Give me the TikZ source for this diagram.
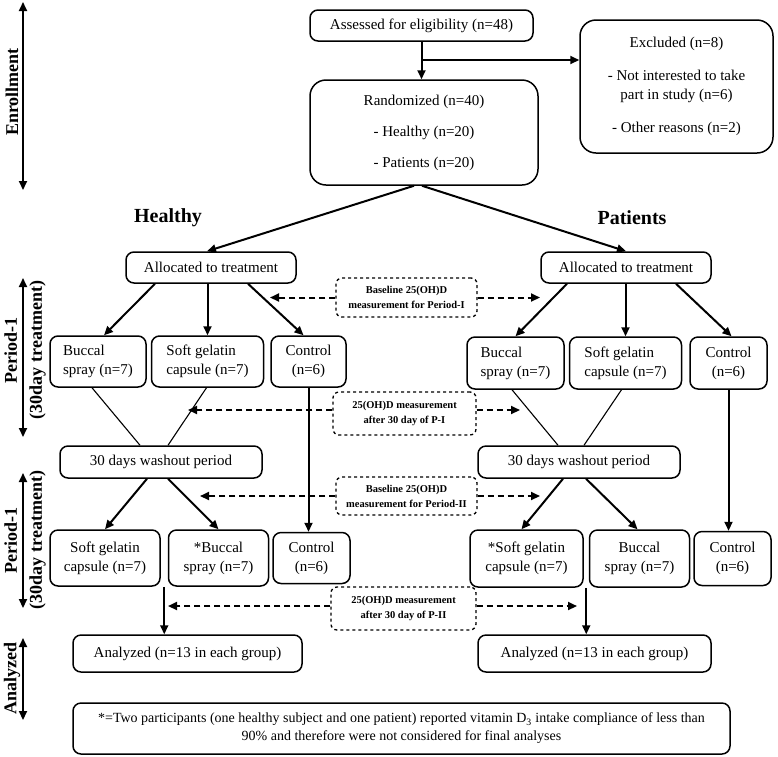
\documentclass[tikz,border=0pt]{standalone}
\usepackage{fontspec}
\setmainfont{Liberation Serif}
\usetikzlibrary{positioning,arrows.meta,calc}

\tikzset{
  box/.style={draw, line width=1.5pt, rounded corners=8pt, align=center, inner sep=0pt, font=\fontsize{15}{19}\selectfont},
  lbox/.style={box, align=left},
  dbox/.style={draw, dashed, line width=1.3pt, rounded corners=6pt, align=center, inner sep=0pt, font=\fontsize{10.5}{15}\selectfont\bfseries},
  head/.style={font=\fontsize{20}{24}\selectfont\bfseries},
  side/.style={rotate=90, align=center, font=\fontsize{18}{25}\selectfont\bfseries},
  arr/.style={-{Triangle[length=9pt,width=8pt]}, line width=2pt},
  darr/.style={arr, dash pattern=on 6pt off 4pt},
  sidearr/.style={{Triangle[length=9pt,width=8pt]}-{Triangle[length=9pt,width=8pt]}, line width=2pt},
  thinline/.style={line width=1.1pt},
}

\begin{document}
\begin{tikzpicture}[x=1pt,y=-1pt]
  \useasboundingbox (0,0) rectangle (778,756);

  % enrollment
  \node[box, minimum width=223, minimum height=31] (assess) at (421.5,25.5) {Assessed for eligibility (n=48)};
  \node[box, rounded corners=16pt, minimum width=193, minimum height=133] (excl) at (676.5,86.5)
    {Excluded (n=8)\\[14pt]- Not interested to take\\part in study (n=6)\\[14pt]- Other reasons (n=2)};
  \node[box, rounded corners=16pt, minimum width=228, minimum height=105] (rand) at (424,132.5)
    {Randomized (n=40)\\[12pt]- Healthy (n=20)\\[12pt]- Patients (n=20)};
  \coordinate (br) at (421,60);
  \draw[arr] (assess) -- (assess |- rand.north);
  \draw[arr] (br) -- (br -| excl.west);

  \node[head] (healthy) at (168,218) {Healthy};
  \node[head] (patients) at (632,218) {Patients};

  \node[box, minimum width=170, minimum height=31] (alloc1) at (211,267.5) {Allocated to treatment};
  \node[box, minimum width=170, minimum height=31] (alloc2) at (626,267.5) {Allocated to treatment};
  \draw[arr] ([xshift=-10]rand.south) -- ([xshift=-4]alloc1.north);
  \draw[arr] ([xshift=-2]rand.south) -- (alloc2.north);

  % period 1
  \node[lbox, minimum width=96, minimum height=51] (b1) at (98,361.5) {Buccal\\spray (n=7)};
  \node[lbox, minimum width=112, minimum height=51, right=4pt of b1] (s1) {Soft gelatin\\capsule (n=7)};
  \node[box, minimum width=75, minimum height=51, right=6pt of s1] (c1) {Control\\(n=6)};
  \node[lbox, minimum width=97, minimum height=52] (b2) at (515.5,363) {Buccal\\spray (n=7)};
  \node[lbox, minimum width=112, minimum height=52, right=4pt of b2] (s2) {Soft gelatin\\capsule (n=7)};
  \node[box, minimum width=77, minimum height=52, right=7pt of s2] (c2) {Control\\(n=6)};

  \draw[arr] ([xshift=-56]alloc1.south) -- ([xshift=6]b1.north);
  \draw[arr] (s1.north |- alloc1.south) -- (s1.north);
  \draw[arr] ([xshift=37]alloc1.south) -- ([xshift=-5]c1.north);
  \draw[arr] ([xshift=-59]alloc2.south) -- (b2.north);
  \draw[arr] (s2.north |- alloc2.south) -- (s2.north);
  \draw[arr] ([xshift=50]alloc2.south) -- ([xshift=3]c2.north);

  % washout
  \node[box, minimum width=202, minimum height=32] (wash1) at (161,462) {30 days washout period};
  \node[box, minimum width=202, minimum height=32] (wash2) at (579,462) {30 days washout period};
  \draw[thinline] ([xshift=-6]b1.south) -- ([xshift=-21]wash1.north);
  \draw[thinline] ([xshift=-1]s1.south) -- ([xshift=7]wash1.north);
  \draw[thinline] ([xshift=-3.5]b2.south) -- ([xshift=-21]wash2.north);
  \draw[thinline] ([xshift=-4]s2.south) -- ([xshift=5]wash2.north);

  % period 2
  \node[box, minimum width=110, minimum height=56] (q1) at (105,558) {Soft gelatin\\capsule (n=7)};
  \node[box, minimum width=100, minimum height=56, right=7pt of q1] (r1) {*Buccal\\spray (n=7)};
  \node[box, minimum width=77, minimum height=51, right=3pt of r1] (d1) {Control\\(n=6)};
  \node[box, minimum width=113, minimum height=57] (q2) at (526.5,558.5) {*Soft gelatin\\capsule (n=7)};
  \node[box, minimum width=100, minimum height=57, right=5pt of q2] (r2) {Buccal\\spray (n=7)};
  \node[box, minimum width=77, minimum height=54, right=3pt of r2] (d2) {Control\\(n=6)};

  \draw[arr] ([xshift=-14]wash1.south) -- (q1.north);
  \draw[arr] ([xshift=7]wash1.south) -- (r1.north);
  \draw[arr] ([xshift=-16]wash2.south) -- ([xshift=-5]q2.north);
  \draw[arr] ([xshift=7]wash2.south) -- ([xshift=-2]r2.north);
  \draw[arr] (c1.south) -- (c1.south |- d1.north);
  \draw[arr] (c2.south) -- (c2.south |- d2.north);

  % analysis
  \node[box, minimum width=229, minimum height=37] (an1) at (187.5,653.5) {Analyzed (n=13 in each group)};
  \node[box, minimum width=233, minimum height=37] (an2) at (594.5,653.5) {Analyzed (n=13 in each group)};
  \coordinate (g1) at ($(q1.south east)!.5!(r1.south west)$);
  \coordinate (g2) at ($(q2.south east)!.5!(r2.south west)$);
  \draw[arr] (g1) -- (g1 |- an1.north);
  \draw[arr] (g2) -- (g2 |- an2.north);

  \node[box, minimum width=657, minimum height=51, font=\fontsize{14}{18}\selectfont] (note) at (401.5,728.5)
    {*=Two participants (one healthy subject and one patient) reported vitamin D\textsubscript{3} intake compliance of less than\\90\% and therefore were not considered for final analyses};

  % 25(OH)D measurements
  \node[dbox, minimum width=141, minimum height=39] (m1) at (406.5,297.5) {Baseline 25(OH)D\\measurement for Period-I};
  \node[dbox, minimum width=143, minimum height=43] (m2) at (404.5,413.5) {25(OH)D measurement\\after 30 day of P-I};
  \node[dbox, minimum width=141, minimum height=38] (m3) at (406.5,496) {Baseline 25(OH)D\\measurement for Period-II};
  \node[dbox, minimum width=145, minimum height=43] (m4) at (403.5,608.5) {25(OH)D measurement\\after 30 day of P-II};
  \coordinate (m1l) at (270,297.5);  \coordinate (m1r) at (540,297.5);
  \coordinate (m2l) at (188,410);    \coordinate (m2r) at (520,410);
  \coordinate (m3l) at (200,496);    \coordinate (m3r) at (540,496);
  \coordinate (m4l) at (168,606);    \coordinate (m4r) at (577,606);
  \foreach \m in {m1,m2,m3,m4}{
    \draw[darr] (\m.west |- \m l) -- (\m l);
    \draw[darr] (\m.east |- \m r) -- (\m r);
  }

  % stages on the left
  \node[side] (lenr) at (12,92) {Enrollment};
  \node[side] (lp1) at (25,350) {Period-1\\(30day treatment)};
  \node[side] (lp2) at (25,540) {Period-1\\(30day treatment)};
  \node[side] (lan) at (12,678) {Analyzed};
  \coordinate (e1) at (23,2);   \coordinate (e2) at (23,190);
  \coordinate (p1) at (23,278); \coordinate (p2) at (23,437);
  \coordinate (p3) at (23,473); \coordinate (p4) at (23,608);
  \coordinate (a1) at (23,638); \coordinate (a2) at (23,720);
  \draw[sidearr] (e1) -- (e2);
  \draw[sidearr] (p1) -- (p2);
  \draw[sidearr] (p3) -- (p4);
  \draw[sidearr] (a1) -- (a2);
\end{tikzpicture}
\end{document}
